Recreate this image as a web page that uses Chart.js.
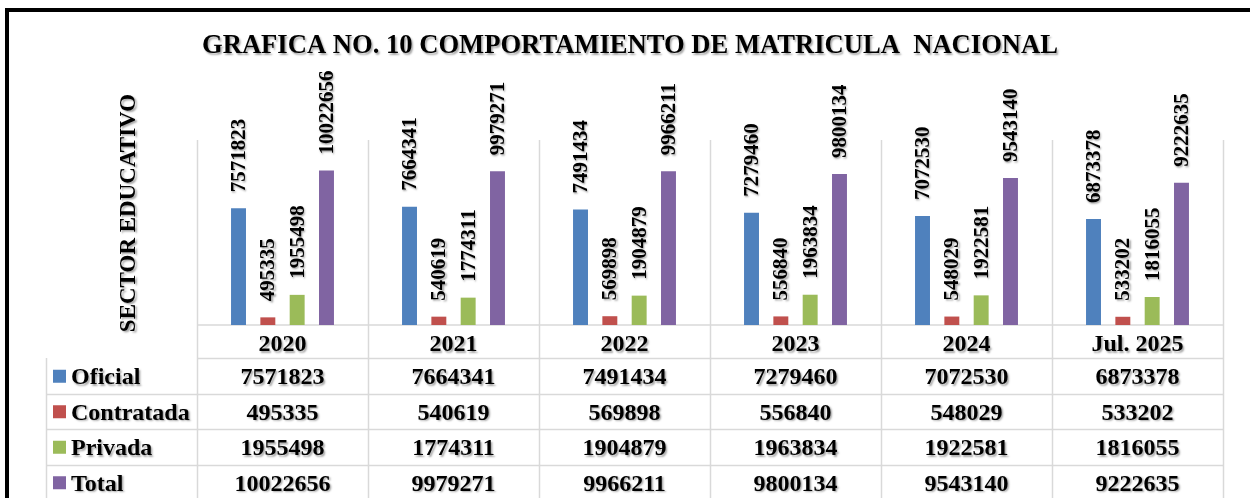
<!DOCTYPE html>
<html lang="es">
<head>
<meta charset="UTF-8">
<title>Grafica No. 10</title>
<script src="https://cdn.jsdelivr.net/npm/chart.js"></script>
<style>
  html, body { margin: 0; padding: 0; background: #fff; }
  #wrap { width: 1250px; height: 498px; position: relative; }
</style>
</head>
<body>
<div id="wrap"><canvas id="grafico"></canvas></div>
<script>
// datos
const categorias = ['2020', '2021', '2022', '2023', '2024', 'Jul. 2025'];
const oficial    = [7571823, 7664341, 7491434, 7279460, 7072530, 6873378];
const contratada = [495335, 540619, 569898, 556840, 548029, 533202];
const privada    = [1955498, 1774311, 1904879, 1963834, 1922581, 1816055];
const total      = [10022656, 9979271, 9966211, 9800134, 9543140, 9222635];
const series     = ['Oficial', 'Contratada', 'Privada', 'Total'];
const colores    = ['#4F81BD', '#C0504D', '#9BBB59', '#8064A2'];

const titulo = 'GRAFICA NO. 10 COMPORTAMIENTO DE MATRICULA  NACIONAL';
const tituloEje = 'SECTOR EDUCATIVO';
const fuente = '"Liberation Serif", "Times New Roman", serif';
const gris = '#d9d9d9';

function sombra(ctx) {
    ctx.shadowColor = 'rgba(0,0,0,0.35)';
    ctx.shadowOffsetX = 1.5;
    ctx.shadowOffsetY = 1.5;
    ctx.shadowBlur = 2;
}

// marco, titulo, rejilla y tabla de datos
const decoracion = {
    id: 'decoracion',
    beforeDatasetsDraw(chart) {
        const { ctx, chartArea: a } = chart;
        const n = categorias.length;
        const w = (a.right - a.left) / n;
        ctx.save();
        ctx.strokeStyle = gris;
        ctx.lineWidth = 1.5;
        ctx.beginPath();
        for (let i = 0; i <= n; i++) {
            const px = Math.round(a.left + i * w) + 0.5;
            ctx.moveTo(px, a.top);
            ctx.lineTo(px, a.bottom);
        }
        ctx.moveTo(a.left, a.bottom);
        ctx.lineTo(a.right, a.bottom);
        ctx.stroke();
        ctx.restore();
    },
    afterDraw(chart) {
        const { ctx, chartArea: a, scales: { x } } = chart;
        const n = categorias.length;
        const w = (a.right - a.left) / n;
        const legIzq = 46;
        const filas = [a.bottom, a.bottom + 33, a.bottom + 68.5, a.bottom + 104, a.bottom + 139.5, a.bottom + 175];

        ctx.save();
        // marco negro
        ctx.fillStyle = '#000';
        ctx.fillRect(5, 8, 1245, 4);
        ctx.fillRect(5, 8, 4, 490);

        // lineas de la tabla
        ctx.strokeStyle = gris;
        ctx.lineWidth = 1.5;
        ctx.beginPath();
        for (let r = 1; r < filas.length; r++) {
            const y = Math.round(filas[r]) + 0.5;
            ctx.moveTo(r === 1 ? a.left : legIzq, y);
            ctx.lineTo(a.right, y);
        }
        ctx.moveTo(legIzq + 0.5, filas[1]);
        ctx.lineTo(legIzq + 0.5, filas[5]);
        for (let i = 0; i <= n; i++) {
            const px = Math.round(a.left + i * w) + 0.5;
            ctx.moveTo(px, filas[0]);
            ctx.lineTo(px, filas[5]);
        }
        ctx.stroke();

        // titulo
        sombra(ctx);
        ctx.fillStyle = '#000';
        ctx.textAlign = 'center';
        ctx.textBaseline = 'alphabetic';
        ctx.font = 'bold 26.6px ' + fuente;
        ctx.fillText(titulo, 630, 53);

        // titulo del eje
        ctx.save();
        ctx.translate(135, 213);
        ctx.rotate(-Math.PI / 2);
        ctx.font = 'bold 23px ' + fuente;
        ctx.fillText(tituloEje, 0, 0);
        ctx.restore();

        // encabezados y valores
        ctx.font = 'bold 24px ' + fuente;
        const datos = [oficial, contratada, privada, total];
        categorias.forEach((c, i) => {
            const cx = x.getPixelForValue(i);
            ctx.fillText(c, cx, filas[0] + 26);
            datos.forEach((d, s) => {
                ctx.fillText(String(d[i]), cx, filas[s + 1] + 26);
            });
        });

        // leyenda en la tabla
        ctx.textAlign = 'left';
        series.forEach((s, k) => {
            const yc = (filas[k + 1] + filas[k + 2]) / 2;
            ctx.shadowColor = 'transparent';
            ctx.fillStyle = colores[k];
            ctx.fillRect(53, yc - 6, 13, 13);
            sombra(ctx);
            ctx.fillStyle = '#000';
            ctx.fillText(s, 71, filas[k + 1] + 26);
        });
        ctx.restore();
    }
};

// etiquetas de valores sobre las barras
const etiquetas = {
    id: 'etiquetas',
    afterDatasetsDraw(chart) {
        const { ctx } = chart;
        ctx.save();
        sombra(ctx);
        ctx.fillStyle = '#000';
        ctx.font = 'bold 21px ' + fuente;
        ctx.textAlign = 'left';
        ctx.textBaseline = 'middle';
        chart.data.datasets.forEach((ds, di) => {
            chart.getDatasetMeta(di).data.forEach((bar, i) => {
                ctx.save();
                ctx.translate(bar.x + 1, bar.y - 16);
                ctx.rotate(-Math.PI / 2);
                ctx.fillText(String(ds.data[i]), 0, 0);
                ctx.restore();
            });
        });
        ctx.restore();
    }
};

new Chart(document.getElementById('grafico'), {
    type: 'bar',
    data: {
        labels: categorias,
        datasets: [
            { label: series[0], data: oficial, backgroundColor: colores[0] },
            { label: series[1], data: contratada, backgroundColor: colores[1] },
            { label: series[2], data: privada, backgroundColor: colores[2] },
            { label: series[3], data: total, backgroundColor: colores[3] }
        ]
    },
    options: {
        responsive: true,
        maintainAspectRatio: false,
        animation: false,
        layout: { padding: { left: 197, right: 27, top: 140, bottom: 173 } },
        datasets: { bar: { categoryPercentage: 0.686, barPercentage: 0.51 } },
        scales: {
            x: { display: false },
            y: { display: false, min: 0, max: 12000000 }
        },
        plugins: {
            legend: { display: false },
            tooltip: { enabled: false }
        }
    },
    plugins: [decoracion, etiquetas]
});
</script>
</body>
</html>
